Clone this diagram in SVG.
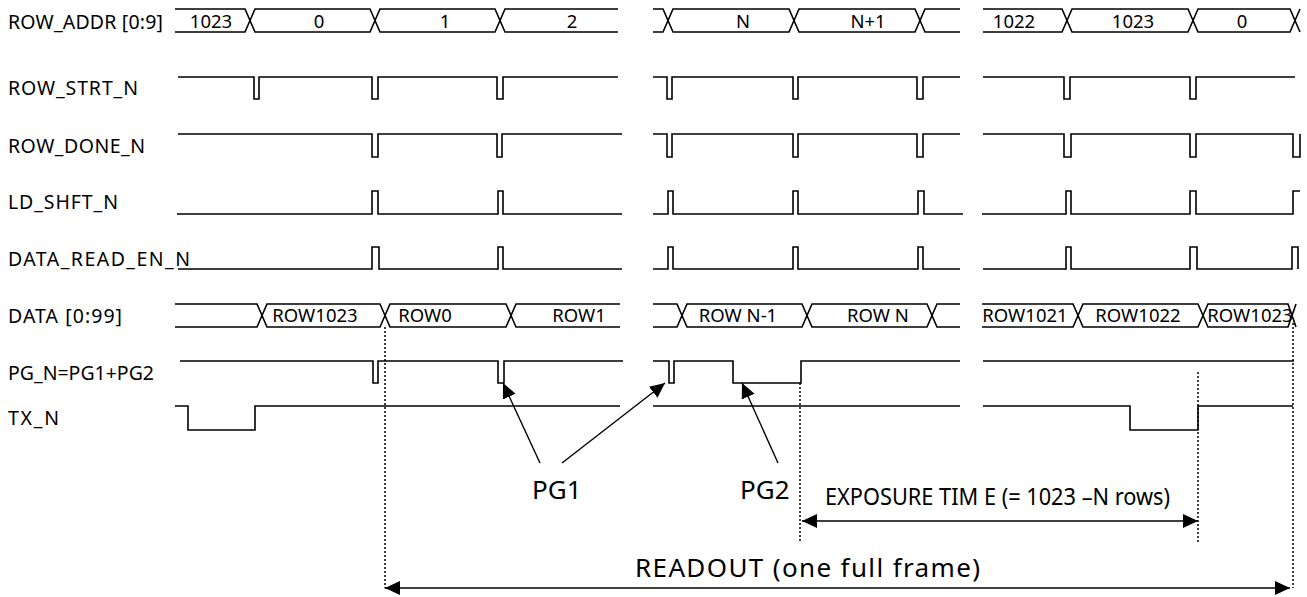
<svg xmlns="http://www.w3.org/2000/svg" width="1307" height="597" viewBox="0 0 1307 597">
<style>
.w{fill:none;stroke:#000;stroke-width:1.6;stroke-linejoin:miter}
.t{font-family:"Noto Sans","Liberation Sans",sans-serif;font-size:18px;fill:#000}
.lb{font-family:"Noto Sans","Liberation Sans",sans-serif;font-size:19.5px;fill:#000}
.v{font-family:"Noto Sans","Liberation Sans",sans-serif;font-size:18.5px;fill:#000;text-anchor:middle}
.big{font-family:"Noto Sans","Liberation Sans",sans-serif;font-size:26px;fill:#000}
.dot{fill:none;stroke:#000;stroke-width:1.5;stroke-dasharray:2 2}
.arr{fill:none;stroke:#000;stroke-width:1.4}
</style>
<defs>
<marker id="ah" markerUnits="userSpaceOnUse" markerWidth="16" markerHeight="15" refX="15" refY="7" orient="auto-start-reverse">
<path d="M0,0 L15,7 L0,14 z" fill="#000"/>
</marker>
</defs>
<rect width="1307" height="597" fill="#fff"/>

<g id="row_addr">
<text class="lb" x="8" y="29" textLength="155" lengthAdjust="spacing">ROW_ADDR [0:9]</text>
<path class="w" d="M175,9 H245 L255,32 H370 L380,9 H495 L505,32 H618"/>
<path class="w" d="M175,32 H245 L255,9 H370 L380,32 H495 L505,9 H618"/>
<path class="w" d="M653,9 H663 L673,32 H789 L799,9 H915 L925,32 H960"/>
<path class="w" d="M653,32 H663 L673,9 H789 L799,32 H915 L925,9 H960"/>
<path class="w" d="M983,9 H1062 L1072,32 H1188 L1198,9 H1290 L1300,32"/>
<path class="w" d="M983,32 H1062 L1072,9 H1188 L1198,32 H1290 L1300,9"/>
<text class="v" x="211" y="28">1023</text>
<text class="v" x="319" y="28">0</text>
<text class="v" x="445" y="28">1</text>
<text class="v" x="572" y="28">2</text>
<text class="v" x="743" y="28">N</text>
<text class="v" x="868" y="28">N+1</text>
<text class="v" x="1014" y="28">1022</text>
<text class="v" x="1133" y="28">1023</text>
<text class="v" x="1242" y="28">0</text>
</g>

<g id="row_strt_n">
<text class="lb" x="8" y="95" textLength="130" lengthAdjust="spacing">ROW_STRT_N</text>
<path class="w" d="M178,77 H254 V99 H259 V77 H372 V99 H378 V77 H497 V99 H503 V77 H618"/>
<path class="w" d="M653,77 H667 V99 H672 V77 H793 V99 H798 V77 H917 V99 H923 V77 H960"/>
<path class="w" d="M983,77 H1064 V99 H1070 V77 H1190 V99 H1196 V77 H1295"/>
</g>

<g id="row_done_n">
<text class="lb" x="8" y="153" textLength="137" lengthAdjust="spacing">ROW_DONE_N</text>
<path class="w" d="M178,134 H372 V157 H378 V134 H497 V157 H502 V134 H622"/>
<path class="w" d="M653,134 H667 V157 H672 V134 H793 V157 H798 V134 H917 V157 H923 V134 H960"/>
<path class="w" d="M983,134 H1064 V157 H1071 V134 H1190 V157 H1196 V134 H1293 V157 H1300 V134"/>
</g>

<g id="ld_shft_n">
<text class="lb" x="8" y="209" textLength="110" lengthAdjust="spacing">LD_SHFT_N</text>
<path class="w" d="M177,214 H372 V191 H378 V214 H498 V191 H503 V214 H622"/>
<path class="w" d="M653,214 H668 V191 H673 V214 H793 V191 H798 V214 H918 V191 H924 V214 H963"/>
<path class="w" d="M982,214 H1066 V191 H1071 V214 H1190 V191 H1196 V214 H1293 V191 H1300"/>
</g>

<g id="data_read_en_n">
<text class="lb" x="8" y="266" textLength="182" lengthAdjust="spacing">DATA_READ_EN_N</text>
<path class="w" d="M178,269 H372 V247 H379 V269 H498 V247 H503 V269 H622"/>
<path class="w" d="M653,269 H668 V247 H673 V269 H793 V247 H798 V269 H918 V247 H923 V269 H960"/>
<path class="w" d="M983,269 H1066 V247 H1071 V269 H1190 V247 H1197 V269 H1292 V247 H1298 V269"/>
</g>

<g id="data">
<text class="lb" x="8" y="323" textLength="114" lengthAdjust="spacing">DATA [0:99]</text>
<path class="w" d="M175,304 H257 L267,327 H380 L390,304 H506 L516,327 H620"/>
<path class="w" d="M175,327 H257 L267,304 H380 L390,327 H506 L516,304 H620"/>
<path class="w" d="M653,304 H677 L687,327 H802 L812,304 H927 L937,327 H960"/>
<path class="w" d="M653,327 H677 L687,304 H802 L812,327 H927 L937,304 H960"/>
<path class="w" d="M982,304 H1073 L1083,327 H1198 L1208,304 H1288 L1296,327"/>
<path class="w" d="M982,327 H1073 L1083,304 H1198 L1208,327 H1288 L1296,304"/>
<text class="v" x="315" y="322">ROW1023</text>
<text class="v" x="425" y="322">ROW0</text>
<text class="v" x="579" y="322">ROW1</text>
<text class="v" x="738" y="322">ROW N-1</text>
<text class="v" x="878" y="322">ROW N</text>
<text class="v" x="1025" y="322">ROW1021</text>
<text class="v" x="1138" y="322">ROW1022</text>
<text class="v" x="1250" y="322">ROW1023</text>
</g>

<g id="pg_n">
<text class="lb" x="8" y="380" textLength="146" lengthAdjust="spacing">PG_N=PG1+PG2</text>
<path class="w" d="M180,361 H373 V383 H378 V361 H498 V383 H504 V361 H623"/>
<path class="w" d="M653,361 H669 V383 H674 V361 H733 V383 H801 V361 H960"/>
<path class="w" d="M983,361 H1294"/>
</g>

<g id="tx_n">
<text class="lb" x="8" y="425" textLength="51" lengthAdjust="spacing">TX_N</text>
<path class="w" d="M175,406 H188 V430 H255 V406 H620"/>
<path class="w" d="M653,406 H960"/>
<path class="w" d="M983,406 H1130 V430 H1198 V406 H1293"/>
</g>

<g id="markers_dotted">
<path class="dot" d="M385,327 V588"/>
<path class="dot" d="M800,383 V542"/>
<path class="dot" d="M1198,372 V542"/>
<path class="dot" d="M1293,323 V588"/>
</g>

<g id="connectors">
<path class="arr" d="M540,463 L503,383" marker-end="url(#ah)"/>
<path class="arr" d="M562,463 L665,383" marker-end="url(#ah)"/>
<path class="arr" d="M778,463 L742,383" marker-end="url(#ah)"/>
<path class="arr" d="M802,521 H1198" marker-start="url(#ah)" marker-end="url(#ah)"/>
<path class="arr" d="M385,588 H1290" marker-start="url(#ah)" marker-end="url(#ah)"/>
</g>

<g id="annotations">
<text class="big" x="532" y="499">PG1</text>
<text class="big" x="740" y="499">PG2</text>
<text class="big" x="635" y="577" textLength="345" lengthAdjust="spacing">READOUT (one full frame)</text>
<text class="big" x="825" y="505" style="font-size:23px" textLength="345" lengthAdjust="spacingAndGlyphs">EXPOSURE TIM E (= 1023 –N rows)</text>
</g>
</svg>
